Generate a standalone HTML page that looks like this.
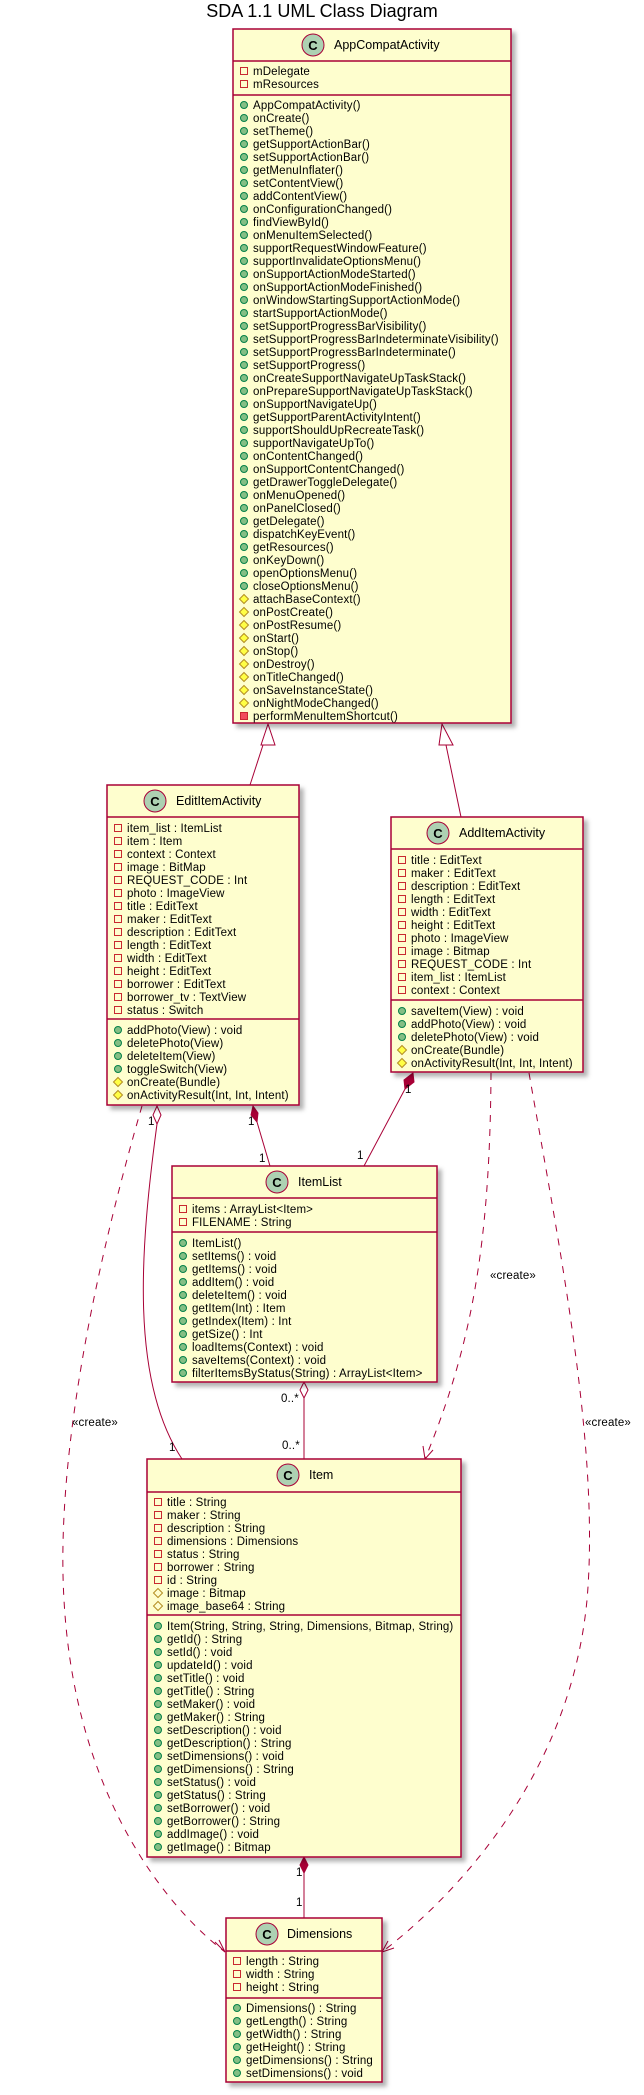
<!DOCTYPE html>
<html><head><meta charset="utf-8"><style>
html,body{margin:0;padding:0;background:#fff;}
svg{display:block;}
text{font-family:"Liberation Sans",sans-serif;fill:#000;}
.m{font-size:11.5px;letter-spacing:0.15px;}
.h{font-size:12.5px;}
.c{font-size:13px;font-weight:bold;text-anchor:middle;}
.box{fill:#FEFECE;stroke:#A80036;stroke-width:1.5;}
.sep{stroke:#A80036;stroke-width:1.5;}
.ln{stroke:#A80036;stroke-width:1;fill:none;}
.ds{stroke:#A80036;stroke-width:1;fill:none;stroke-dasharray:7,7;}
</style></head><body>
<svg width="644" height="2095" viewBox="0 0 644 2095" xmlns="http://www.w3.org/2000/svg">
<defs>
<filter id="sh" x="-10%" y="-10%" width="130%" height="130%"><feDropShadow dx="4" dy="4" stdDeviation="2" flood-color="#000" flood-opacity="0.3"/></filter>
<g id="pa"><rect x="-3.5" y="-3.5" width="7" height="7" fill="none" stroke="#C82930"/></g>
<g id="qm"><rect x="-3.5" y="-3.5" width="7" height="7" fill="#F24D5C" stroke="#C82930"/></g>
<g id="pm"><circle r="3.5" fill="#84BE84" stroke="#038048"/></g>
<g id="ra"><path d="M0,-4.5 L4.5,0 L0,4.5 L-4.5,0 Z" fill="none" stroke="#B38D22"/></g>
<g id="rm"><path d="M0,-4.5 L4.5,0 L0,4.5 L-4.5,0 Z" fill="#FFFF44" stroke="#B38D22"/></g>
</defs>

<text x="322" y="17" font-size="18" text-anchor="middle">SDA 1.1 UML Class Diagram</text>

<!-- connectors -->
<path class="ln" d="M263,745 L250,785"/>
<path d="M268,724 L261,745 L275,745 Z" fill="#fff" stroke="#A80036"/>
<path class="ln" d="M446,745 L461,817"/>
<path d="M442,724 L439,745 L453,745 Z" fill="#fff" stroke="#A80036"/>

<path class="ds" d="M142,1106 C100,1250 55,1450 64,1600 C75,1800 170,1910 225,1952"/>
<path class="ln" d="M215,1942 L225,1952 L219,1940"/>
<text class="m" x="72" y="1426">«create»</text>

<path class="ln" d="M157,1124 C140,1250 130,1380 182,1459"/>
<path d="M157,1106 L161,1115 L157,1124 L153,1115 Z" fill="#fff" stroke="#A80036"/>
<text class="m" x="148" y="1125">1</text>
<text class="m" x="169" y="1451">1</text>

<path class="ln" d="M257,1122 L270,1166"/>
<path d="M253,1106 L258,1113 L257,1122 L251,1115 Z" fill="#A80036" stroke="#A80036"/>
<text class="m" x="248" y="1125">1</text>
<text class="m" x="259" y="1162">1</text>

<path class="ln" d="M405,1089 L364,1166"/>
<path d="M413,1073 L414,1082 L405,1089 L404,1080 Z" fill="#A80036" stroke="#A80036"/>
<text class="m" x="405" y="1093">1</text>
<text class="m" x="357" y="1159">1</text>

<path class="ds" d="M491,1073 C490,1250 470,1350 425,1459"/>
<path class="ln" d="M423,1446 L425,1459 L433,1450"/>
<text class="m" x="490" y="1279">«create»</text>

<path class="ds" d="M529,1073 C560,1250 600,1450 587,1600 C570,1780 450,1900 382,1952"/>
<path class="ln" d="M388,1941 L382,1952 L394,1948"/>
<text class="m" x="585" y="1426">«create»</text>

<path class="ln" d="M304,1398 L304,1459"/>
<path d="M304,1382 L308,1390 L304,1398 L300,1390 Z" fill="#fff" stroke="#A80036"/>
<text class="m" x="281" y="1402">0..*</text>
<text class="m" x="282" y="1449">0..*</text>

<path class="ln" d="M304,1873 L304,1918"/>
<path d="M304,1857 L308,1865 L304,1873 L300,1865 Z" fill="#A80036" stroke="#A80036"/>
<text class="m" x="296" y="1876">1</text>
<text class="m" x="296" y="1906">1</text>

<!-- AppCompatActivity -->
<rect class="box" filter="url(#sh)" x="233" y="29" width="278" height="694"/>
<line class="sep" x1="233" y1="61" x2="511" y2="61"/>
<line class="sep" x1="233" y1="95" x2="511" y2="95"/>
<circle cx="313" cy="45" r="11" fill="#ADD1B2" stroke="#A80036"/>
<text class="c" x="313" y="50">C</text>
<text class="h" x="334" y="49">AppCompatActivity</text>
<use href="#pa" x="244" y="71"/><text class="m" x="253" y="75">mDelegate</text>
<use href="#pa" x="244" y="84"/><text class="m" x="253" y="88">mResources</text>
<use href="#pm" x="244" y="105"/><text class="m" x="253" y="109">AppCompatActivity()</text>
<use href="#pm" x="244" y="118"/><text class="m" x="253" y="122">onCreate()</text>
<use href="#pm" x="244" y="131"/><text class="m" x="253" y="135">setTheme()</text>
<use href="#pm" x="244" y="144"/><text class="m" x="253" y="148">getSupportActionBar()</text>
<use href="#pm" x="244" y="157"/><text class="m" x="253" y="161">setSupportActionBar()</text>
<use href="#pm" x="244" y="170"/><text class="m" x="253" y="174">getMenuInflater()</text>
<use href="#pm" x="244" y="183"/><text class="m" x="253" y="187">setContentView()</text>
<use href="#pm" x="244" y="196"/><text class="m" x="253" y="200">addContentView()</text>
<use href="#pm" x="244" y="209"/><text class="m" x="253" y="213">onConfigurationChanged()</text>
<use href="#pm" x="244" y="222"/><text class="m" x="253" y="226">findViewById()</text>
<use href="#pm" x="244" y="235"/><text class="m" x="253" y="239">onMenuItemSelected()</text>
<use href="#pm" x="244" y="248"/><text class="m" x="253" y="252">supportRequestWindowFeature()</text>
<use href="#pm" x="244" y="261"/><text class="m" x="253" y="265">supportInvalidateOptionsMenu()</text>
<use href="#pm" x="244" y="274"/><text class="m" x="253" y="278">onSupportActionModeStarted()</text>
<use href="#pm" x="244" y="287"/><text class="m" x="253" y="291">onSupportActionModeFinished()</text>
<use href="#pm" x="244" y="300"/><text class="m" x="253" y="304">onWindowStartingSupportActionMode()</text>
<use href="#pm" x="244" y="313"/><text class="m" x="253" y="317">startSupportActionMode()</text>
<use href="#pm" x="244" y="326"/><text class="m" x="253" y="330">setSupportProgressBarVisibility()</text>
<use href="#pm" x="244" y="339"/><text class="m" x="253" y="343">setSupportProgressBarIndeterminateVisibility()</text>
<use href="#pm" x="244" y="352"/><text class="m" x="253" y="356">setSupportProgressBarIndeterminate()</text>
<use href="#pm" x="244" y="365"/><text class="m" x="253" y="369">setSupportProgress()</text>
<use href="#pm" x="244" y="378"/><text class="m" x="253" y="382">onCreateSupportNavigateUpTaskStack()</text>
<use href="#pm" x="244" y="391"/><text class="m" x="253" y="395">onPrepareSupportNavigateUpTaskStack()</text>
<use href="#pm" x="244" y="404"/><text class="m" x="253" y="408">onSupportNavigateUp()</text>
<use href="#pm" x="244" y="417"/><text class="m" x="253" y="421">getSupportParentActivityIntent()</text>
<use href="#pm" x="244" y="430"/><text class="m" x="253" y="434">supportShouldUpRecreateTask()</text>
<use href="#pm" x="244" y="443"/><text class="m" x="253" y="447">supportNavigateUpTo()</text>
<use href="#pm" x="244" y="456"/><text class="m" x="253" y="460">onContentChanged()</text>
<use href="#pm" x="244" y="469"/><text class="m" x="253" y="473">onSupportContentChanged()</text>
<use href="#pm" x="244" y="482"/><text class="m" x="253" y="486">getDrawerToggleDelegate()</text>
<use href="#pm" x="244" y="495"/><text class="m" x="253" y="499">onMenuOpened()</text>
<use href="#pm" x="244" y="508"/><text class="m" x="253" y="512">onPanelClosed()</text>
<use href="#pm" x="244" y="521"/><text class="m" x="253" y="525">getDelegate()</text>
<use href="#pm" x="244" y="534"/><text class="m" x="253" y="538">dispatchKeyEvent()</text>
<use href="#pm" x="244" y="547"/><text class="m" x="253" y="551">getResources()</text>
<use href="#pm" x="244" y="560"/><text class="m" x="253" y="564">onKeyDown()</text>
<use href="#pm" x="244" y="573"/><text class="m" x="253" y="577">openOptionsMenu()</text>
<use href="#pm" x="244" y="586"/><text class="m" x="253" y="590">closeOptionsMenu()</text>
<use href="#rm" x="244" y="599"/><text class="m" x="253" y="603">attachBaseContext()</text>
<use href="#rm" x="244" y="612"/><text class="m" x="253" y="616">onPostCreate()</text>
<use href="#rm" x="244" y="625"/><text class="m" x="253" y="629">onPostResume()</text>
<use href="#rm" x="244" y="638"/><text class="m" x="253" y="642">onStart()</text>
<use href="#rm" x="244" y="651"/><text class="m" x="253" y="655">onStop()</text>
<use href="#rm" x="244" y="664"/><text class="m" x="253" y="668">onDestroy()</text>
<use href="#rm" x="244" y="677"/><text class="m" x="253" y="681">onTitleChanged()</text>
<use href="#rm" x="244" y="690"/><text class="m" x="253" y="694">onSaveInstanceState()</text>
<use href="#rm" x="244" y="703"/><text class="m" x="253" y="707">onNightModeChanged()</text>
<use href="#qm" x="244" y="716"/><text class="m" x="253" y="720">performMenuItemShortcut()</text>

<!-- EditItemActivity -->
<rect class="box" filter="url(#sh)" x="107" y="785" width="192" height="320"/>
<line class="sep" x1="107" y1="817" x2="299" y2="817"/>
<line class="sep" x1="107" y1="1019" x2="299" y2="1019"/>
<circle cx="155" cy="801" r="11" fill="#ADD1B2" stroke="#A80036"/>
<text class="c" x="155" y="806">C</text>
<text class="h" x="176" y="805">EditItemActivity</text>
<use href="#pa" x="118" y="828"/><text class="m" x="127" y="832">item_list : ItemList</text>
<use href="#pa" x="118" y="841"/><text class="m" x="127" y="845">item : Item</text>
<use href="#pa" x="118" y="854"/><text class="m" x="127" y="858">context : Context</text>
<use href="#pa" x="118" y="867"/><text class="m" x="127" y="871">image : BitMap</text>
<use href="#pa" x="118" y="880"/><text class="m" x="127" y="884">REQUEST_CODE : Int</text>
<use href="#pa" x="118" y="893"/><text class="m" x="127" y="897">photo : ImageView</text>
<use href="#pa" x="118" y="906"/><text class="m" x="127" y="910">title : EditText</text>
<use href="#pa" x="118" y="919"/><text class="m" x="127" y="923">maker : EditText</text>
<use href="#pa" x="118" y="932"/><text class="m" x="127" y="936">description : EditText</text>
<use href="#pa" x="118" y="945"/><text class="m" x="127" y="949">length : EditText</text>
<use href="#pa" x="118" y="958"/><text class="m" x="127" y="962">width : EditText</text>
<use href="#pa" x="118" y="971"/><text class="m" x="127" y="975">height : EditText</text>
<use href="#pa" x="118" y="984"/><text class="m" x="127" y="988">borrower : EditText</text>
<use href="#pa" x="118" y="997"/><text class="m" x="127" y="1001">borrower_tv : TextView</text>
<use href="#pa" x="118" y="1010"/><text class="m" x="127" y="1014">status : Switch</text>
<use href="#pm" x="118" y="1030"/><text class="m" x="127" y="1034">addPhoto(View) : void</text>
<use href="#pm" x="118" y="1043"/><text class="m" x="127" y="1047">deletePhoto(View)</text>
<use href="#pm" x="118" y="1056"/><text class="m" x="127" y="1060">deleteItem(View)</text>
<use href="#pm" x="118" y="1069"/><text class="m" x="127" y="1073">toggleSwitch(View)</text>
<use href="#rm" x="118" y="1082"/><text class="m" x="127" y="1086">onCreate(Bundle)</text>
<use href="#rm" x="118" y="1095"/><text class="m" x="127" y="1099">onActivityResult(Int, Int, Intent)</text>

<!-- AddItemActivity -->
<rect class="box" filter="url(#sh)" x="391" y="817" width="192" height="255"/>
<line class="sep" x1="391" y1="849" x2="583" y2="849"/>
<line class="sep" x1="391" y1="1000" x2="583" y2="1000"/>
<circle cx="438" cy="833" r="11" fill="#ADD1B2" stroke="#A80036"/>
<text class="c" x="438" y="838">C</text>
<text class="h" x="459" y="837">AddItemActivity</text>
<use href="#pa" x="402" y="860"/><text class="m" x="411" y="864">title : EditText</text>
<use href="#pa" x="402" y="873"/><text class="m" x="411" y="877">maker : EditText</text>
<use href="#pa" x="402" y="886"/><text class="m" x="411" y="890">description : EditText</text>
<use href="#pa" x="402" y="899"/><text class="m" x="411" y="903">length : EditText</text>
<use href="#pa" x="402" y="912"/><text class="m" x="411" y="916">width : EditText</text>
<use href="#pa" x="402" y="925"/><text class="m" x="411" y="929">height : EditText</text>
<use href="#pa" x="402" y="938"/><text class="m" x="411" y="942">photo : ImageView</text>
<use href="#pa" x="402" y="951"/><text class="m" x="411" y="955">image : Bitmap</text>
<use href="#pa" x="402" y="964"/><text class="m" x="411" y="968">REQUEST_CODE : Int</text>
<use href="#pa" x="402" y="977"/><text class="m" x="411" y="981">item_list : ItemList</text>
<use href="#pa" x="402" y="990"/><text class="m" x="411" y="994">context : Context</text>
<use href="#pm" x="402" y="1011"/><text class="m" x="411" y="1015">saveItem(View) : void</text>
<use href="#pm" x="402" y="1024"/><text class="m" x="411" y="1028">addPhoto(View) : void</text>
<use href="#pm" x="402" y="1037"/><text class="m" x="411" y="1041">deletePhoto(View) : void</text>
<use href="#rm" x="402" y="1050"/><text class="m" x="411" y="1054">onCreate(Bundle)</text>
<use href="#rm" x="402" y="1063"/><text class="m" x="411" y="1067">onActivityResult(Int, Int, Intent)</text>

<!-- ItemList -->
<rect class="box" filter="url(#sh)" x="172" y="1166" width="265" height="216"/>
<line class="sep" x1="172" y1="1198" x2="437" y2="1198"/>
<line class="sep" x1="172" y1="1232" x2="437" y2="1232"/>
<circle cx="277" cy="1182" r="11" fill="#ADD1B2" stroke="#A80036"/>
<text class="c" x="277" y="1187">C</text>
<text class="h" x="298" y="1186">ItemList</text>
<use href="#pa" x="183" y="1209"/><text class="m" x="192" y="1213">items : ArrayList&lt;Item&gt;</text>
<use href="#pa" x="183" y="1222"/><text class="m" x="192" y="1226">FILENAME : String</text>
<use href="#pm" x="183" y="1243"/><text class="m" x="192" y="1247">ItemList()</text>
<use href="#pm" x="183" y="1256"/><text class="m" x="192" y="1260">setItems() : void</text>
<use href="#pm" x="183" y="1269"/><text class="m" x="192" y="1273">getItems() : void</text>
<use href="#pm" x="183" y="1282"/><text class="m" x="192" y="1286">addItem() : void</text>
<use href="#pm" x="183" y="1295"/><text class="m" x="192" y="1299">deleteItem() : void</text>
<use href="#pm" x="183" y="1308"/><text class="m" x="192" y="1312">getItem(Int) : Item</text>
<use href="#pm" x="183" y="1321"/><text class="m" x="192" y="1325">getIndex(Item) : Int</text>
<use href="#pm" x="183" y="1334"/><text class="m" x="192" y="1338">getSize() : Int</text>
<use href="#pm" x="183" y="1347"/><text class="m" x="192" y="1351">loadItems(Context) : void</text>
<use href="#pm" x="183" y="1360"/><text class="m" x="192" y="1364">saveItems(Context) : void</text>
<use href="#pm" x="183" y="1373"/><text class="m" x="192" y="1377">filterItemsByStatus(String) : ArrayList&lt;Item&gt;</text>

<!-- Item -->
<rect class="box" filter="url(#sh)" x="147" y="1459" width="314" height="398"/>
<line class="sep" x1="147" y1="1492" x2="461" y2="1492"/>
<line class="sep" x1="147" y1="1615" x2="461" y2="1615"/>
<circle cx="288" cy="1475" r="11" fill="#ADD1B2" stroke="#A80036"/>
<text class="c" x="288" y="1480">C</text>
<text class="h" x="309" y="1479">Item</text>
<use href="#pa" x="158" y="1502"/><text class="m" x="167" y="1506">title : String</text>
<use href="#pa" x="158" y="1515"/><text class="m" x="167" y="1519">maker : String</text>
<use href="#pa" x="158" y="1528"/><text class="m" x="167" y="1532">description : String</text>
<use href="#pa" x="158" y="1541"/><text class="m" x="167" y="1545">dimensions : Dimensions</text>
<use href="#pa" x="158" y="1554"/><text class="m" x="167" y="1558">status : String</text>
<use href="#pa" x="158" y="1567"/><text class="m" x="167" y="1571">borrower : String</text>
<use href="#pa" x="158" y="1580"/><text class="m" x="167" y="1584">id : String</text>
<use href="#ra" x="158" y="1593"/><text class="m" x="167" y="1597">image : Bitmap</text>
<use href="#ra" x="158" y="1606"/><text class="m" x="167" y="1610">image_base64  : String</text>
<use href="#pm" x="158" y="1626"/><text class="m" x="167" y="1630">Item(String, String, String, Dimensions, Bitmap, String)</text>
<use href="#pm" x="158" y="1639"/><text class="m" x="167" y="1643">getId() : String</text>
<use href="#pm" x="158" y="1652"/><text class="m" x="167" y="1656">setId() : void</text>
<use href="#pm" x="158" y="1665"/><text class="m" x="167" y="1669">updateId() : void</text>
<use href="#pm" x="158" y="1678"/><text class="m" x="167" y="1682">setTitle() : void</text>
<use href="#pm" x="158" y="1691"/><text class="m" x="167" y="1695">getTitle() : String</text>
<use href="#pm" x="158" y="1704"/><text class="m" x="167" y="1708">setMaker() : void</text>
<use href="#pm" x="158" y="1717"/><text class="m" x="167" y="1721">getMaker() : String</text>
<use href="#pm" x="158" y="1730"/><text class="m" x="167" y="1734">setDescription() : void</text>
<use href="#pm" x="158" y="1743"/><text class="m" x="167" y="1747">getDescription() : String</text>
<use href="#pm" x="158" y="1756"/><text class="m" x="167" y="1760">setDimensions() : void</text>
<use href="#pm" x="158" y="1769"/><text class="m" x="167" y="1773">getDimensions() : String</text>
<use href="#pm" x="158" y="1782"/><text class="m" x="167" y="1786">setStatus() : void</text>
<use href="#pm" x="158" y="1795"/><text class="m" x="167" y="1799">getStatus() : String</text>
<use href="#pm" x="158" y="1808"/><text class="m" x="167" y="1812">setBorrower() : void</text>
<use href="#pm" x="158" y="1821"/><text class="m" x="167" y="1825">getBorrower() : String</text>
<use href="#pm" x="158" y="1834"/><text class="m" x="167" y="1838">addImage() : void</text>
<use href="#pm" x="158" y="1847"/><text class="m" x="167" y="1851">getImage() : Bitmap</text>

<!-- Dimensions -->
<rect class="box" filter="url(#sh)" x="226" y="1918" width="156" height="164"/>
<line class="sep" x1="226" y1="1951" x2="382" y2="1951"/>
<line class="sep" x1="226" y1="1998" x2="382" y2="1998"/>
<circle cx="267" cy="1934" r="11" fill="#ADD1B2" stroke="#A80036"/>
<text class="c" x="267" y="1939">C</text>
<text class="h" x="287" y="1938">Dimensions</text>
<use href="#pa" x="237" y="1961"/><text class="m" x="246" y="1965">length : String</text>
<use href="#pa" x="237" y="1974"/><text class="m" x="246" y="1978">width : String</text>
<use href="#pa" x="237" y="1987"/><text class="m" x="246" y="1991">height : String</text>
<use href="#pm" x="237" y="2008"/><text class="m" x="246" y="2012">Dimensions() : String</text>
<use href="#pm" x="237" y="2021"/><text class="m" x="246" y="2025">getLength() : String</text>
<use href="#pm" x="237" y="2034"/><text class="m" x="246" y="2038">getWidth() : String</text>
<use href="#pm" x="237" y="2047"/><text class="m" x="246" y="2051">getHeight() : String</text>
<use href="#pm" x="237" y="2060"/><text class="m" x="246" y="2064">getDimensions() : String</text>
<use href="#pm" x="237" y="2073"/><text class="m" x="246" y="2077">setDimensions() : void</text>
</svg>
</body></html>
